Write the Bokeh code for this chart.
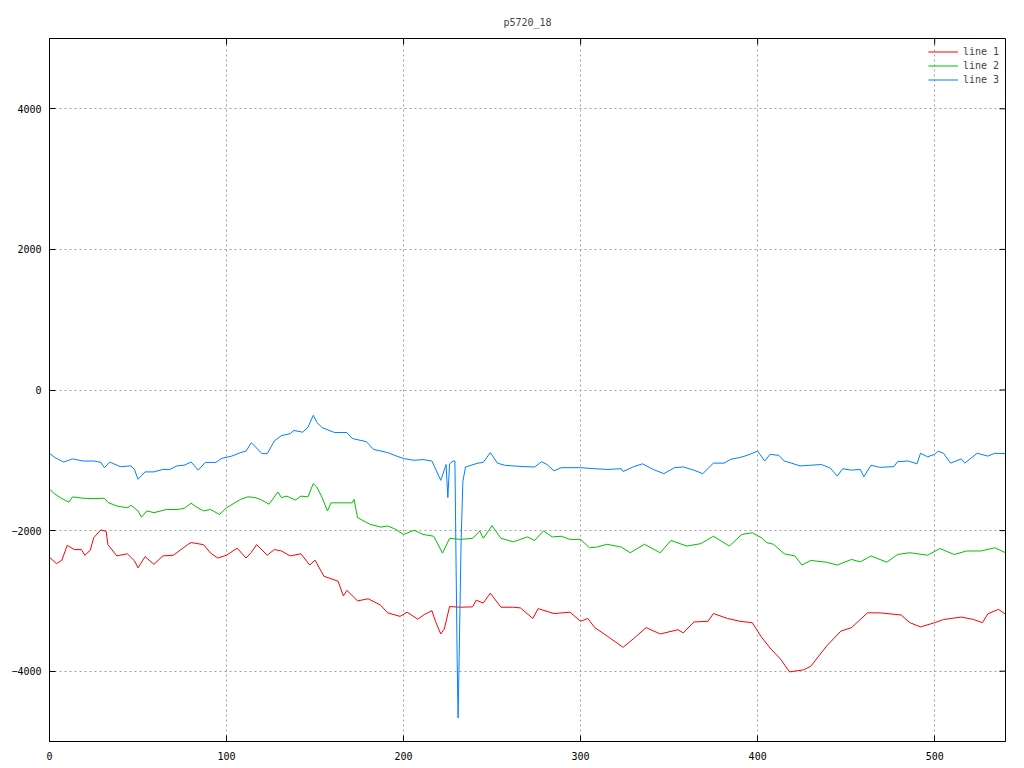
import math
from bokeh.plotting import figure
from bokeh.models import FixedTicker, Range1d, Legend, LegendItem
from bokeh.embed import file_html
from bokeh.resources import INLINE

TITLE = "p5720_18"
X_RANGE = (0, 540)
Y_RANGE = (-5000, 5000)
X_TICKS = [0, 100, 200, 300, 400, 500]
Y_TICKS = [-4000, -2000, 0, 2000, 4000]
SERIES_NAMES = ["line 1", "line 2", "line 3"]
SERIES_COLORS = ["#ff0000", "#00c000", "#0080ff"]

line1_x = [0, 4, 7, 10, 14, 18, 20, 23, 25, 29, 32, 33, 38, 44, 48, 50, 54, 59, 64, 70,
           78, 80, 87, 91, 95, 100, 106, 111, 114, 117, 123, 127, 131, 136, 138, 142, 147, 150,
           155, 163, 166, 168, 174, 180, 187, 191, 198, 202, 208, 212, 216, 218, 221, 223, 226,
           232, 239, 241, 245, 249, 255, 262, 266, 273, 276, 285, 294, 300, 304, 308, 315, 324,
           330, 337, 345, 355, 358, 364, 372, 375, 383, 390, 397, 402, 407, 413, 418, 426, 430,
           439, 447, 453, 458, 462, 469, 481, 486, 492, 500, 505, 515, 522, 527, 530, 536, 540]
line1_y = [-2380, -2470, -2420, -2210, -2270, -2270, -2350, -2280, -2100, -1990, -2010, -2200,
           -2360, -2330, -2430, -2530, -2370, -2480, -2360, -2350, -2200, -2170, -2200, -2320,
           -2390, -2350, -2250, -2390, -2310, -2200, -2350, -2270, -2290, -2360, -2350, -2330,
           -2490, -2420, -2650, -2720, -2930, -2850, -3000, -2970, -3060, -3170, -3220, -3160,
           -3260, -3190, -3140, -3290, -3470, -3400, -3080, -3090, -3085, -2990, -3030, -2890,
           -3090, -3090, -3100, -3250, -3110, -3180, -3160, -3290, -3250, -3380, -3500, -3660,
           -3535, -3380, -3470, -3410, -3455, -3300, -3290, -3180, -3250, -3290, -3310, -3510,
           -3670, -3830, -4010, -3980, -3930, -3640, -3430, -3380, -3265, -3170, -3170, -3200,
           -3310, -3370, -3310, -3265, -3230, -3265, -3310, -3185, -3120, -3190]

line2_x = [0, 3, 6, 9, 11, 13, 19, 25, 31, 33, 38, 44, 46, 50, 52, 55, 59, 66, 72, 76, 80,
           83, 87, 91, 96, 100, 108, 112, 116, 119, 124, 129, 131, 134, 139, 142, 146, 149, 151,
           154, 157, 159, 164, 171, 172, 174, 181, 187, 191, 195, 200, 206, 211, 217, 222, 226,
           232, 239, 243, 245, 250, 255, 262, 266, 270, 274, 279, 284, 289, 294, 300, 305, 309,
           315, 323, 328, 336, 345, 351, 360, 368, 375, 384, 391, 397, 402, 405, 409, 415, 421,
           425, 430, 439, 445, 453, 458, 464, 473, 479, 486, 496, 503, 511, 518, 526, 534, 540]
line2_y = [-1410, -1480, -1530, -1570, -1595, -1520, -1540, -1545, -1540, -1600, -1650, -1675,
           -1640, -1720, -1810, -1720, -1745, -1700, -1700, -1685, -1610, -1665, -1720, -1700,
           -1770, -1675, -1555, -1520, -1530, -1555, -1625, -1450, -1530, -1510, -1565, -1510,
           -1520, -1330, -1380, -1530, -1720, -1605, -1605, -1605, -1555, -1815, -1910, -1950,
           -1935, -1975, -2055, -1995, -2055, -2080, -2320, -2110, -2125, -2110, -2005, -2110,
           -1930, -2110, -2160, -2125, -2090, -2140, -2005, -2090, -2080, -2125, -2125, -2245,
           -2235, -2195, -2235, -2315, -2195, -2315, -2140, -2220, -2185, -2080, -2220, -2055,
           -2030, -2100, -2170, -2195, -2330, -2360, -2490, -2425, -2450, -2490, -2410, -2445,
           -2360, -2450, -2340, -2315, -2350, -2255, -2340, -2290, -2290, -2245, -2315]

line3_x = [0, 3, 8, 13, 19, 25, 29, 31, 34, 40, 46, 48, 50, 54, 59, 64, 68, 72, 76, 80, 84,
           88, 94, 97, 103, 108, 111, 114, 116, 120, 123, 127, 131, 136, 138, 143, 146, 149, 151,
           154, 161, 168, 171, 179, 183, 191, 195, 200, 206, 211, 216, 221, 224, 225, 226, 228,
           229, 229.7, 230.3, 230.8, 231.2, 232.5, 233.5, 235, 242, 245, 249, 253, 257, 262, 268,
           274, 278, 281, 285, 289, 294, 300, 308, 315, 323, 324, 330, 335, 341, 347, 353, 358,
           364, 369, 375, 381, 385, 390, 394, 400, 404, 407, 412, 415, 419, 424, 430, 436, 441,
           445, 448, 453, 458, 460, 464, 469, 477, 479, 485, 490, 492, 496, 500, 502, 505, 509,
           515, 517, 524, 530, 534, 540]
line3_y = [-900, -960, -1025, -980, -1010, -1010, -1030, -1105, -1025, -1090, -1080, -1130,
           -1270, -1165, -1165, -1130, -1130, -1080, -1070, -1025, -1140, -1030, -1030, -975,
           -940, -890, -870, -750, -800, -905, -905, -725, -650, -620, -575, -600, -530, -360,
           -460, -535, -605, -605, -690, -735, -845, -890, -930, -975, -1000, -990, -1010, -1285,
           -1060, -1530, -1050, -1010, -1010, -2580, -3880, -4665, -4095, -2150, -1300, -1095,
           -1040, -1030, -890, -1040, -1070, -1080, -1090, -1095, -1020, -1060, -1150, -1105,
           -1105, -1105, -1120, -1130, -1120, -1160, -1090, -1050, -1130, -1190, -1105, -1095,
           -1140, -1190, -1040, -1040, -985, -960, -930, -870, -1010, -915, -930, -1010, -1040,
           -1080, -1070, -1060, -1110, -1225, -1120, -1140, -1130, -1235, -1070, -1100, -1090,
           -1020, -1010, -1050, -900, -950, -915, -870, -900, -1040, -980, -1040, -900, -940,
           -900, -905]

FONT = "DejaVu Sans Mono"

p = figure(width=1016, height=765, output_backend="svg", toolbar_location=None,
           x_range=Range1d(*X_RANGE), y_range=Range1d(*Y_RANGE),
           min_border_left=49, min_border_right=11, min_border_top=38, min_border_bottom=24)

p.title.text = TITLE
p.title.align = "center"
p.title.text_font = FONT
p.title.text_font_size = "10px"
p.title.text_font_style = "normal"
p.title.standoff = 22

p.outline_line_color = "black"
p.outline_line_width = 1
p.background_fill_color = "white"
p.border_fill_color = "white"

for ax in (p.xaxis[0], p.yaxis[0]):
    ax.major_tick_in = 6
    ax.major_tick_out = 0
    ax.minor_tick_line_color = None
    ax.axis_line_color = "black"
    ax.major_tick_line_color = "black"
    ax.major_label_text_font = FONT
    ax.major_label_text_font_size = "10px"
    ax.major_label_text_color = "black"
p.xaxis[0].ticker = FixedTicker(ticks=X_TICKS)
p.yaxis[0].ticker = FixedTicker(ticks=Y_TICKS)
p.xaxis[0].major_label_standoff = 10
p.yaxis[0].major_label_standoff = 8

p.xgrid.ticker = FixedTicker(ticks=X_TICKS)
p.ygrid.ticker = FixedTicker(ticks=Y_TICKS)
for g in (p.xgrid[0], p.ygrid[0]):
    g.grid_line_color = "#a0a0a0"
    g.grid_line_dash = "2 3"
    g.grid_line_width = 1

# mirrored tick marks on the right and top frame edges (half of each dash is clipped by the frame)
p.scatter([X_RANGE[1]] * len(Y_TICKS), Y_TICKS, marker="dash", size=12,
          line_color="black", line_width=1)
p.scatter(X_TICKS, [Y_RANGE[1]] * len(X_TICKS), marker="dash", size=12, angle=math.pi / 2,
          line_color="black", line_width=1)

xs = [line1_x, line2_x, line3_x]
ys = [line1_y, line2_y, line3_y]
items = []
for name, color, x, y in zip(SERIES_NAMES, SERIES_COLORS, xs, ys):
    r = p.line(x, y, line_color=color, line_width=1)
    items.append(LegendItem(label=name, renderers=[r]))

legend = Legend(items=items, location="top_right")
legend.label_text_font = FONT
legend.label_text_font_size = "10px"
legend.glyph_width = 30
legend.glyph_height = 13
legend.label_height = 14
legend.spacing = 0
legend.padding = 0
legend.margin = 6
legend.background_fill_alpha = 0
legend.border_line_color = None
p.add_layout(legend)

open("out.html", "w").write(file_html(p, INLINE))
